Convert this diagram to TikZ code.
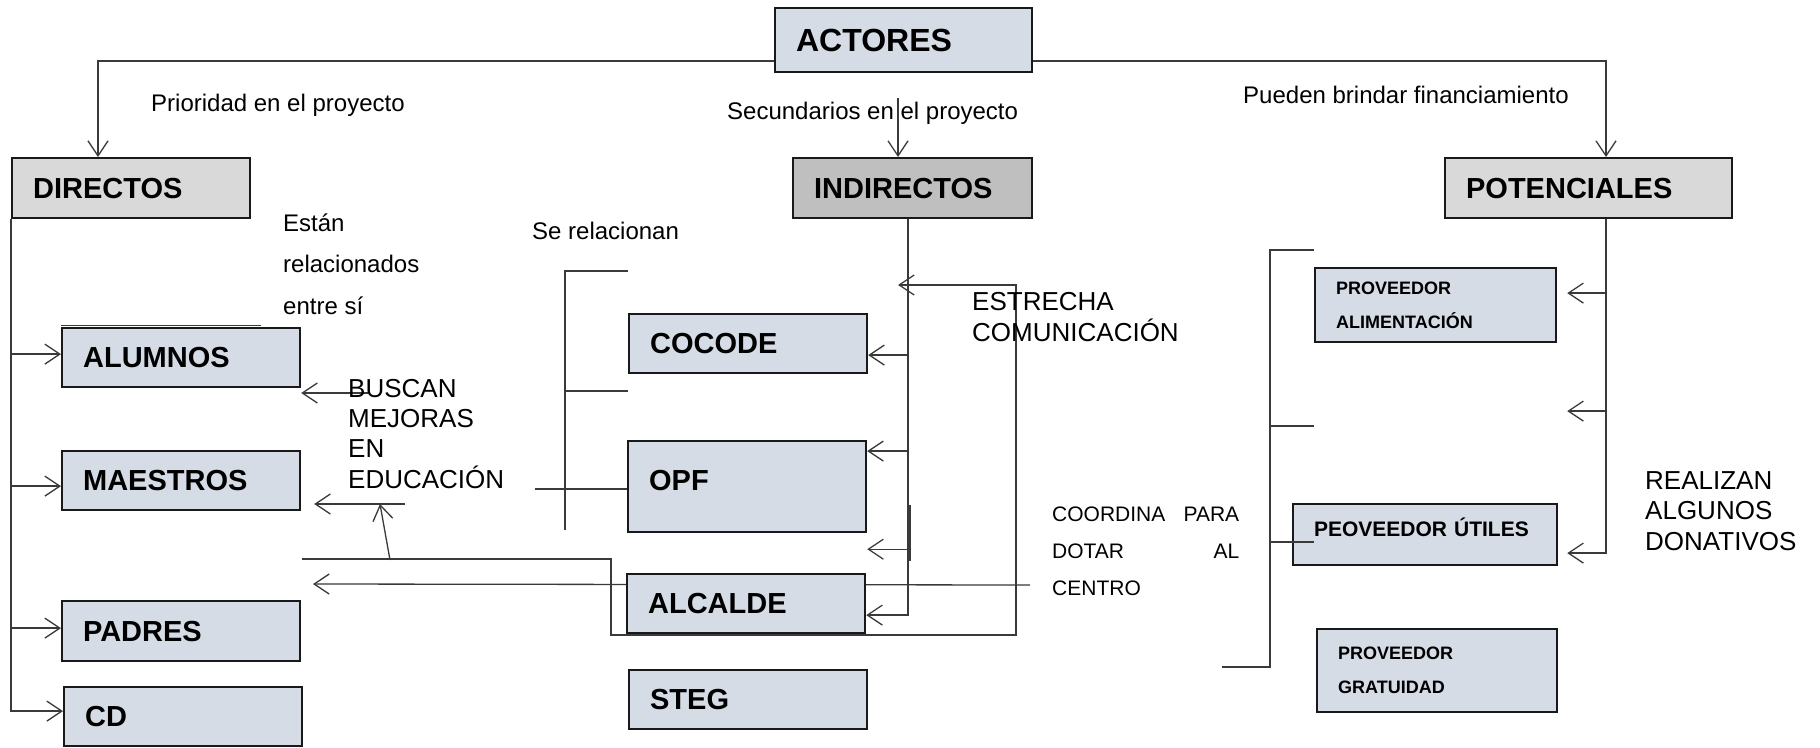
\documentclass[tikz,border=0pt]{standalone}
\usepackage{fontspec}
\setmainfont{Liberation Sans}
\usetikzlibrary{arrows.meta,calc,backgrounds}
\definecolor{boxblue}{HTML}{D6DCE5}
\definecolor{gA}{HTML}{D9D9D9}
\definecolor{gB}{HTML}{BFBFBF}
\definecolor{lnc}{HTML}{3A3A3A}
\tikzset{
  bx/.style={draw=black!90, line width=2.2pt, fill=boxblue, anchor=north west,
    inner xsep=21pt, inner ysep=0pt, align=left,
    font=\fontsize{29}{34}\selectfont\bfseries},
  sz/.style n args={3}{minimum width=#1pt, minimum height=#2pt, text width=#3pt},
  ln/.style={draw=lnc, line width=1.3pt},
  ar/.style={ln, -{Straight Barb[length=15pt,width=20pt]}},
  lab/.style={anchor=base west, inner sep=0pt, font=\fontsize{24}{28}\selectfont},
  big/.style={lab, font=\fontsize{26}{30}\selectfont},
  sml/.style={lab, font=\fontsize{21}{25}\selectfont},
}
\begin{document}
\begin{tikzpicture}[x=1pt,y=-1pt]
\useasboundingbox (0,0) rectangle (1820,747);

% boxes
\node[bx, sz={257}{64}{215}, font=\fontsize{32}{36}\selectfont\bfseries] (actores) at (774,7) {ACTORES};
\node[bx, sz={238}{60}{196}, fill=gA] (directos) at (11,157) {DIRECTOS};
\node[bx, sz={239}{60}{197}, fill=gB] (indirectos) at (792,157) {INDIRECTOS};
\node[bx, sz={287}{60}{245}, fill=gA] (potenciales) at (1444,157) {POTENCIALES};
\node[bx, sz={238}{59}{196}] (alumnos) at (61,327) {ALUMNOS};
\node[bx, sz={238}{59}{196}] (maestros) at (61,450) {MAESTROS};
\node[bx, sz={238}{60}{196}] (padres) at (61,600) {PADRES};
\node[bx, sz={238}{59}{196}] (cd) at (63,686) {CD};
\node[bx, sz={238}{59}{196}] (cocode) at (628,313) {COCODE};
\node[bx, sz={238}{91}{196}, text depth=13pt] (opf) at (627,440) {OPF};
\node[bx, sz={238}{59}{196}] (alcalde) at (626,573) {ALCALDE};
\node[bx, sz={238}{59}{196}] (steg) at (628,669) {STEG};
\node[bx, sz={241}{74}{199}, font=\fontsize{18}{34}\selectfont\bfseries] (palim) at (1314,267) {PROVEEDOR\\ALIMENTACIÓN};
\node[bx, sz={264}{61}{222}, text depth=14pt, font=\fontsize{21}{25}\selectfont\bfseries] (putil) at (1292,503) {PEOVEEDOR ÚTILES};
\node[bx, sz={240}{83}{198}, font=\fontsize{18}{34}\selectfont\bfseries] (pgrat) at (1316,628) {PROVEEDOR\\GRATUIDAD};

% top connectors
\coordinate (jL) at (98,61);
\coordinate (jR) at (1606,61);
\coordinate (jI) at (898,98);
\draw[ar] (actores.west |- jL) -| (jL |- directos.north);
\draw[ar] (actores.east |- jR) -| (jR |- potenciales.north);
\draw[ar] (jI) -- (jI |- indirectos.north);

% directos trunk
\coordinate (dAl) at ([yshift=3.5pt]alumnos.west);
\coordinate (dMa) at ([yshift=-5.5pt]maestros.west);
\coordinate (dPa) at ([yshift=3pt]padres.west);
\coordinate (dCd) at ([yshift=5.5pt]cd.west);
\draw[ar] (directos.south west) |- (dCd);
\draw[ar] (dAl -| directos.south west) -- (dAl);
\draw[ar] (dMa -| directos.south west) -- (dMa);
\draw[ar] (dPa -| directos.south west) -- (dPa);
\draw[ln] ([yshift=1.5pt]alumnos.north west) -- ++(200,0);

% indirectos trunk
\coordinate (iT) at ([xshift=-4.5pt]indirectos.south);
\coordinate (iCo) at ([yshift=-11.5pt]cocode.east);
\coordinate (iOp) at ([yshift=35.5pt]opf.east);
\coordinate (iX) at ([yshift=-16pt]opf.south east);
\coordinate (iAl) at ([yshift=-11.5pt]alcalde.east);
\draw[ar] (iT) |- (iAl);
\draw[ar] (iT |- iCo) -- (iCo);
\draw[ar] (iT |- iOp) -- (iOp);
\draw[ar] (iT |- iX) -- (iX);
\draw[ln] ($(iT |- opf.south)+(2,-28)$) -- ++(0,56);

% potenciales trunk
\coordinate (pT) at (jR |- potenciales.south);
\coordinate (pA1) at ([xshift=10pt,yshift=12pt]palim.east);
\coordinate (pA2) at ([xshift=10pt,yshift=-106pt]palim.east);
\coordinate (pA3) at ([xshift=9pt,yshift=-18.5pt]putil.east);
\draw[ar] (pT) |- (pA3);
\draw[ar] (pT |- pA1) -- (pA1);
\draw[ar] (pT |- pA2) -- (pA2);

% Se relacionan bracket
\coordinate (sTop) at (565,271);
\coordinate (sBot) at (565,530);
\coordinate (sMid) at (565,391);
\coordinate (sOp) at (535,489);
\draw[ln] (sBot) -- (sTop) -- (sTop -| cocode.west);
\draw[ln] (sMid) -- (sMid -| cocode.west);
\draw[ln] (sOp) -- (sOp -| opf.west);

% potenciales bracket
\coordinate (kTop) at (1270,250);
\coordinate (kBot) at (1270,667);
\coordinate (kEnd) at (1222,667);
\coordinate (kMid) at (1270,426);
\coordinate (kUt) at (1270,542);
\draw[ln] (kEnd) -- (kBot) -- (kTop) -- (kTop -| palim.west);
\draw[ln] (kMid) -- (kMid -| palim.west);
\draw[ln] (kUt) -- (kUt -| palim.west);

% BUSCAN arrows
\coordinate (b1) at (368,393);
\coordinate (b2) at (405,504);
\coordinate (b3s) at (390,560);
\coordinate (b3e) at (380,504);
\draw[ar] (b1) -- (b1 -| alumnos.east);
\draw[ar] (b2) -- ([xshift=13pt]b2 -| maestros.east);
\draw[ar] (b3s) -- (b3e);

% ESTRECHA loop
\coordinate (eA) at (302,559);
\coordinate (eE) at (898,285);
\draw[ar] (eA) -- ++(309,0) -- ++(0,76) -- ++(405,0) -- ++(0,-350) -- (eE);

% background: white and the line under ALCALDE
\coordinate (aR) at (1030,585);
\coordinate (aL) at (313,584);
\begin{scope}[on background layer]
  \fill[white] (0,0) rectangle (1820,747);
  \draw[ar] (aR) -- (aL);
\end{scope}

% texts
\node[lab] (t1) at (151,111) {Prioridad en el proyecto};
\node[lab] (t2) at (727,119) {Secundarios en el proyecto};
\node[lab] (t3) at (1243,103) {Pueden brindar financiamiento};
\node[lab] (t4a) at (283,231) {Están};
\node[lab] (t4b) at (283,272) {relacionados};
\node[lab] (t4c) at (283,314) {entre sí};
\node[lab] (t5) at (532,239) {Se relacionan};
\node[big] (t6a) at (348,397) {BUSCAN};
\node[big] (t6b) at (348,427) {MEJORAS};
\node[big] (t6c) at (348,457) {EN};
\node[big] (t6d) at (348,488) {EDUCACIÓN};
\node[big] (t7a) at (972,310) {ESTRECHA};
\node[big] (t7b) at (972,341) {COMUNICACIÓN};
\node[big] (t8a) at (1645,489) {REALIZAN};
\node[big] (t8b) at (1645,519) {ALGUNOS};
\node[big] (t8c) at (1645,550) {DONATIVOS};
\node[sml] (t9a) at (1052,521) {\makebox[187pt][s]{COORDINA\hfill PARA}};
\node[sml] (t9b) at (1052,558) {\makebox[187pt][s]{DOTAR\hfill AL}};
\node[sml] (t9c) at (1052,595) {CENTRO};
\end{tikzpicture}
\end{document}
